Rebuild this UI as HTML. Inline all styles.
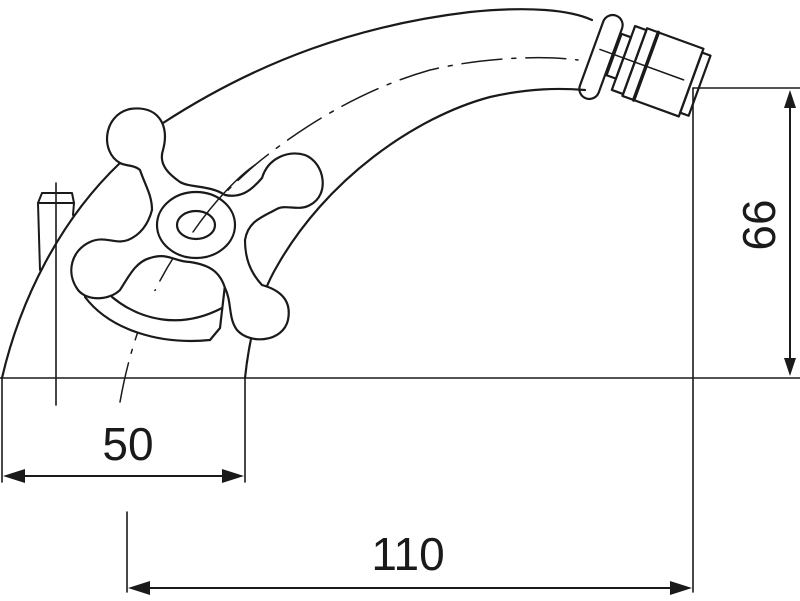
<!DOCTYPE html>
<html><head><meta charset="utf-8"><style>html,body{margin:0;padding:0;background:#fff}svg{display:block}</style></head>
<body>
<svg width="800" height="601" viewBox="0 0 800 601" xmlns="http://www.w3.org/2000/svg" fill="none" stroke="#1a1a1a" stroke-width="2.2" stroke-linejoin="round" stroke-linecap="round">
<line x1="0" y1="378" x2="800" y2="378" stroke-width="1.6"/>
<path d="M2,378 C20,300 60,220 120,163"/>
<path d="M163,123 C260,60 360,25 470,12 C530,6 570,10 592,20"/>
<path d="M245,378 C250,330 262,292 276,268 C325,180 415,117 490,97 C530,88 560,88 585,90"/>
<g transform="rotate(20 601 57)"><rect x="591" y="13" width="20" height="88" rx="10"/></g>
<g transform="rotate(20 662 72)">
<rect x="611" y="50" width="10" height="44"/>
<rect x="621" y="38" width="12" height="68"/>
<rect x="633" y="36" width="12" height="72"/>
<line x1="645" y1="36" x2="645" y2="108" stroke-width="3.5"/>
<rect x="645" y="36" width="48" height="72"/>
<rect x="693" y="40" width="9" height="64"/>
<line x1="596" y1="72" x2="685" y2="72" stroke-width="1.5"/>
</g>
<path d="M120,402 C138,300 180,230 255,165 C300,128 360,90 430,70 C480,58 540,55 578,60" stroke-width="1.5" stroke-dasharray="40,10,4,10"/>
<path d="M40,270 L38,203 L42,193 L72,193 L74,203 L73,215" stroke-width="2"/>
<line x1="38" y1="203" x2="74" y2="203" stroke-width="2"/>
<line x1="56" y1="183" x2="56" y2="405" stroke-width="1.6"/>
<path d="M85,297 C110,330 160,345 210,340 L220,328 L225,285" fill="#fff"/>
<path d="M112,297 C140,320 180,330 222,308"/>
<path fill="#fff" d="M120,163 C100,152 103,115 130,109 C158,105 170,125 163,150 C158,165 170,175 180,182 C190,188 210,185 225,195 C240,198 250,192 262,178 C268,158 288,150 305,155 C325,163 330,195 310,205 C298,212 285,203 275,210 C260,218 248,222 245,240 C245,258 250,272 262,285 C280,290 292,300 288,320 C283,342 250,345 237,330 C228,318 232,302 225,288 C220,272 210,265 190,262 C175,262 168,252 150,258 C135,262 128,278 120,290 C110,300 88,302 78,290 C65,272 72,250 90,242 C105,235 115,245 128,240 C140,235 148,225 152,210 C152,195 145,185 140,170 C135,165 125,166 120,163 Z"/>
<ellipse cx="196" cy="225" rx="39" ry="33" fill="#fff"/>
<ellipse cx="196" cy="225" rx="19" ry="14"/>
<path d="M255,165 C240,175 215,200 193,232" stroke-width="1.5"/>
<line x1="693" y1="88" x2="800" y2="88" stroke-width="1.6"/>
<line x1="693" y1="88" x2="693" y2="592" stroke-width="1.6"/>
<line x1="790" y1="100" x2="790" y2="366" stroke-width="2"/>
<path d="M790,90 L784,108 L796,108 Z M790,376 L784,358 L796,358 Z" fill="#1a1a1a" stroke="none"/>
<text x="0" y="0" transform="translate(775,225) rotate(-90)" font-family="Liberation Sans, sans-serif" font-size="46" fill="#1a1a1a" stroke="none" text-anchor="middle">66</text>
<line x1="2" y1="378" x2="2" y2="482" stroke-width="1.6"/>
<line x1="245" y1="378" x2="245" y2="482" stroke-width="1.6"/>
<line x1="12" y1="476" x2="235" y2="476" stroke-width="2"/>
<path d="M3,476 L25,469 L25,483 Z M244,476 L222,469 L222,483 Z" fill="#1a1a1a" stroke="none"/>
<text x="128" y="460" font-family="Liberation Sans, sans-serif" font-size="46" fill="#1a1a1a" stroke="none" text-anchor="middle">50</text>
<line x1="127" y1="512" x2="127" y2="592" stroke-width="1.6"/>
<line x1="137" y1="588" x2="683" y2="588" stroke-width="2"/>
<path d="M128,588 L150,581 L150,595 Z M692,588 L670,581 L670,595 Z" fill="#1a1a1a" stroke="none"/>
<text x="408" y="570" font-family="Liberation Sans, sans-serif" font-size="46" fill="#1a1a1a" stroke="none" text-anchor="middle">110</text>
</svg>
</body></html>
